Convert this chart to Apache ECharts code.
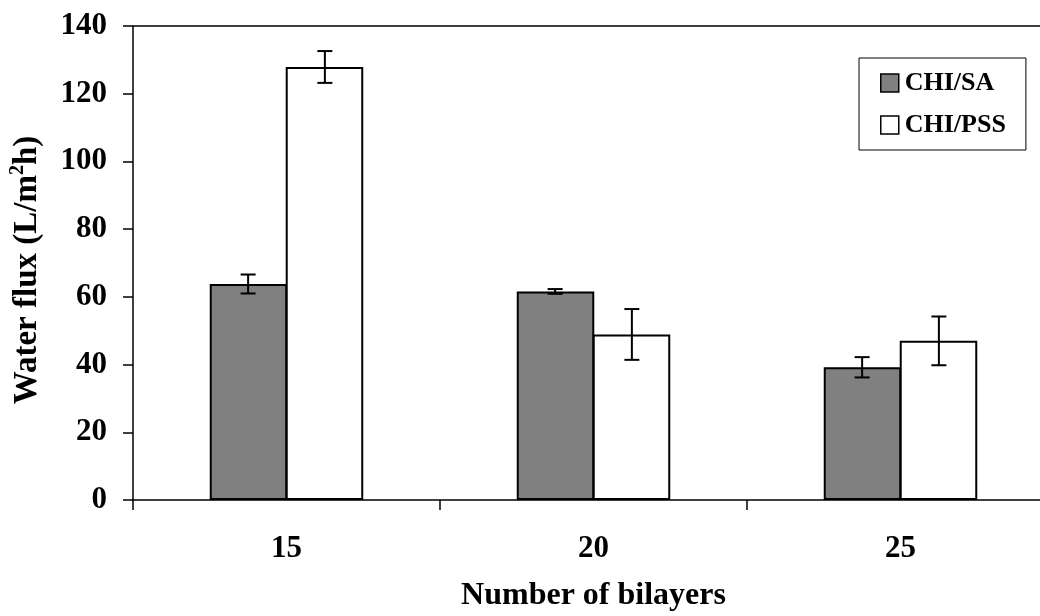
<!DOCTYPE html>
<html>
<head>
<meta charset="utf-8">
<script src="https://cdn.jsdelivr.net/npm/echarts@6/dist/echarts.min.js"></script>
<style>
  html, body { margin: 0; padding: 0; background: #fff; }
  #chart { width: 1040px; height: 616px; }
</style>
</head>
<body>
<div id="chart"></div>
<script>
// Water flux by number of bilayers, mean ± standard deviation
const categories = ['15', '20', '25'];
const chiSA = [63.8, 61.6, 39.2];
const chiSAErr = [2.8, 0.7, 3.0];
const chiPSS = [127.9, 48.9, 47.0];
const chiPSSErr = [4.7, 7.5, 7.2];
const yTicks = [0, 20, 40, 60, 80, 100, 120, 140];

const FONT = '"Liberation Serif", "Times New Roman", serif';

// Error bar renderer; side = -1 for the left bar of a pair, +1 for the right
function errorRenderer(side) {
  return function (params, api) {
    const cat = api.value(0);
    const mean = api.value(1);
    const err = api.value(2);
    const band = api.size([1, 0])[0];
    const dx = side * band * 0.125;
    const hi = api.coord([cat, mean + err]);
    const lo = api.coord([cat, mean - err]);
    const x = hi[0] + dx;
    const cap = 7.5;
    const style = { stroke: '#000', lineWidth: 2, fill: null };
    return {
      type: 'group',
      children: [
        { type: 'line', shape: { x1: x, y1: hi[1], x2: x, y2: lo[1] }, style },
        { type: 'line', shape: { x1: x - cap, y1: hi[1], x2: x + cap, y2: hi[1] }, style },
        { type: 'line', shape: { x1: x - cap, y1: lo[1], x2: x + cap, y2: lo[1] }, style }
      ]
    };
  };
}

const chart = echarts.init(document.getElementById('chart'));
chart.setOption({
  backgroundColor: '#fff',
  animation: false,
  textStyle: { fontFamily: FONT, color: '#000' },
  grid: { left: 133, top: 26, right: -14, bottom: 116, containLabel: false, outerBoundsMode: 'none' },
  legend: {
    orient: 'vertical',
    left: 859,
    top: 58,
    padding: [12, 20, 12, 21],
    itemGap: 16,
    itemWidth: 18,
    itemHeight: 18,
    borderColor: '#000',
    borderWidth: 1,
    backgroundColor: '#fff',
    textStyle: { fontFamily: FONT, fontWeight: 'bold', fontSize: 26, color: '#000', padding: [0, 0, 0, 1] },
    data: [
      { name: 'CHI/SA', icon: 'rect', itemStyle: { color: '#808080', borderColor: '#000', borderWidth: 1.5 } },
      { name: 'CHI/PSS', icon: 'rect', itemStyle: { color: '#fff', borderColor: '#000', borderWidth: 1.5 } }
    ]
  },
  xAxis: [{
    type: 'category',
    data: categories,
    boundaryGap: true,
    axisLine: { show: true, lineStyle: { color: '#000', width: 1.5 } },
    axisTick: { show: true, length: 10, alignWithLabel: false, lineStyle: { color: '#000', width: 1.5 } },
    axisLabel: { fontFamily: FONT, fontWeight: 'bold', fontSize: 31, color: '#000', margin: 33 },
    name: 'Number of bilayers',
    nameLocation: 'middle',
    nameGap: 80,
    nameTextStyle: { fontFamily: FONT, fontWeight: 'bold', fontSize: 32, color: '#000' }
  }, {
    // plot frame line along the top edge
    type: 'category',
    position: 'top',
    data: categories,
    axisLine: { show: true, lineStyle: { color: '#000', width: 1.5 } },
    axisTick: { show: false },
    axisLabel: { show: false }
  }],
  yAxis: {
    type: 'value',
    min: yTicks[0],
    max: yTicks[yTicks.length - 1],
    interval: 20,
    splitLine: { show: false },
    axisLine: { show: true, lineStyle: { color: '#000', width: 1.5 } },
    axisTick: { show: true, length: 10, inside: false, lineStyle: { color: '#000', width: 1.5 } },
    axisLabel: { fontFamily: FONT, fontWeight: 'bold', fontSize: 31, color: '#000', margin: 26 },
    name: '{a|Water flux (L/m}{s|2}{a|h)}',
    nameLocation: 'middle',
    nameGap: 87,
    nameTextStyle: {
      fontFamily: FONT, fontWeight: 'bold', fontSize: 33, color: '#000',
      padding: [0, 14, 0, 0],
      rich: {
        a: { fontFamily: FONT, fontWeight: 'bold', fontSize: 33, color: '#000', lineHeight: 38 },
        s: { fontFamily: FONT, fontWeight: 'bold', fontSize: 20, color: '#000', verticalAlign: 'top', lineHeight: 38 }
      }
    }
  },
  series: [
    {
      name: 'CHI/SA',
      type: 'bar',
      data: chiSA,
      barGap: '-2%',
      barCategoryGap: '50%',
      itemStyle: { color: '#808080', borderColor: '#000', borderWidth: 2 }
    },
    {
      name: 'CHI/PSS',
      type: 'bar',
      data: chiPSS,
      barGap: '-2%',
      barCategoryGap: '50%',
      itemStyle: { color: '#fff', borderColor: '#000', borderWidth: 2 }
    },
    {
      type: 'custom',
      name: 'CHI/SA error',
      renderItem: errorRenderer(-1),
      data: categories.map((c, i) => [i, chiSA[i], chiSAErr[i]]),
      z: 5,
      silent: true
    },
    {
      type: 'custom',
      name: 'CHI/PSS error',
      renderItem: errorRenderer(1),
      data: categories.map((c, i) => [i, chiPSS[i], chiPSSErr[i]]),
      z: 5,
      silent: true
    }
  ]
});
</script>
</body>
</html>
